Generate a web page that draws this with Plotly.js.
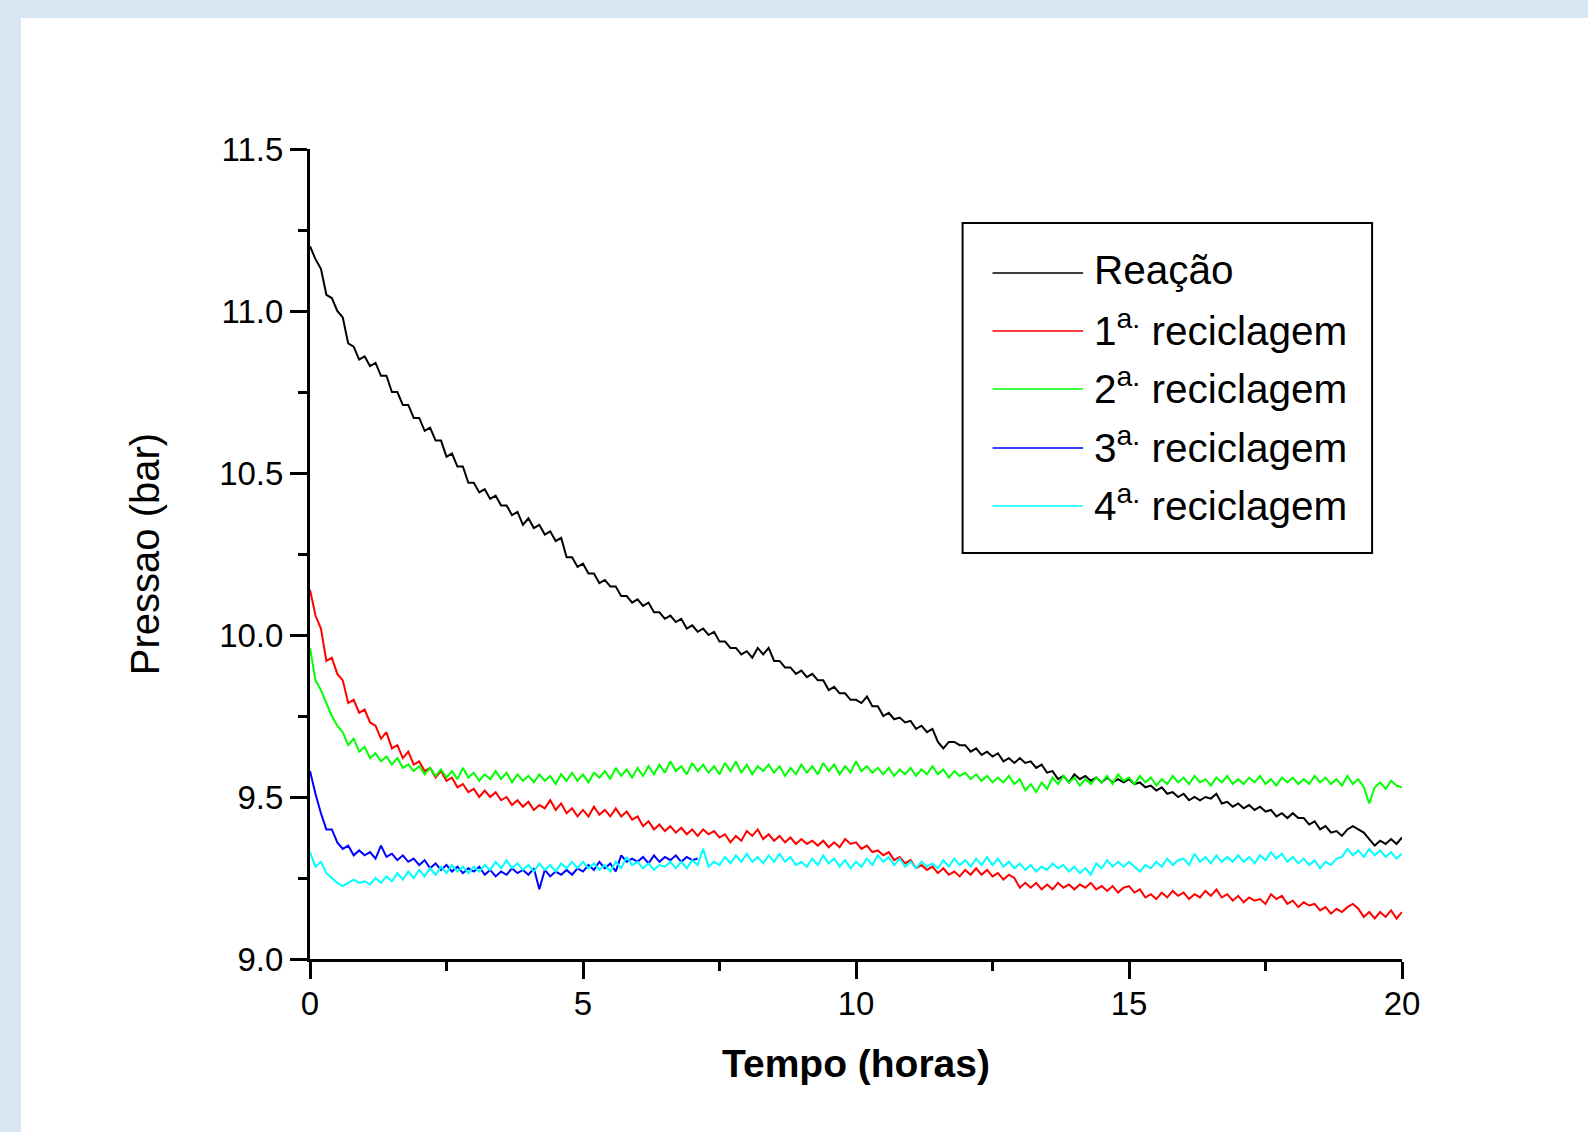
<!DOCTYPE html>
<html><head><meta charset="utf-8">
<script src="https://cdn.plot.ly/plotly-3.0.1.min.js"></script>
<style>
html,body{margin:0;padding:0;width:1588px;height:1132px;overflow:hidden;background:#d8e5f2;}
#chart{position:absolute;left:21px;top:18px;width:1567px;height:1114px;background:#fff;}
</style></head><body><div id="chart"></div>
<script>
// Tempo (horas)
const tempo = [
0,0.1,0.2,0.3,0.4,0.5,0.6,0.7,0.8,0.9,
1,1.1,1.2,1.3,1.4,1.5,1.6,1.7,1.8,1.9,
2,2.1,2.2,2.3,2.4,2.5,2.6,2.7,2.8,2.9,
3,3.1,3.2,3.3,3.4,3.5,3.6,3.7,3.8,3.9,
4,4.1,4.2,4.3,4.4,4.5,4.6,4.7,4.8,4.9,
5,5.1,5.2,5.3,5.4,5.5,5.6,5.7,5.8,5.9,
6,6.1,6.2,6.3,6.4,6.5,6.6,6.7,6.8,6.9,
7,7.1,7.2,7.3,7.4,7.5,7.6,7.7,7.8,7.9,
8,8.1,8.2,8.3,8.4,8.5,8.6,8.7,8.8,8.9,
9,9.1,9.2,9.3,9.4,9.5,9.6,9.7,9.8,9.9,
10,10.1,10.2,10.3,10.4,10.5,10.6,10.7,10.8,10.9,
11,11.1,11.2,11.3,11.4,11.5,11.6,11.7,11.8,11.9,
12,12.1,12.2,12.3,12.4,12.5,12.6,12.7,12.8,12.9,
13,13.1,13.2,13.3,13.4,13.5,13.6,13.7,13.8,13.9,
14,14.1,14.2,14.3,14.4,14.5,14.6,14.7,14.8,14.9,
15,15.1,15.2,15.3,15.4,15.5,15.6,15.7,15.8,15.9,
16,16.1,16.2,16.3,16.4,16.5,16.6,16.7,16.8,16.9,
17,17.1,17.2,17.3,17.4,17.5,17.6,17.7,17.8,17.9,
18,18.1,18.2,18.3,18.4,18.5,18.6,18.7,18.8,18.9,
19,19.1,19.2,19.3,19.4,19.5,19.6,19.7,19.8,19.9,
20];

// Pressao (bar)
const reacao = [
11.20,11.16,11.13,11.05,11.04,11.00,10.98,10.90,10.89,10.85,
10.86,10.83,10.84,10.80,10.80,10.75,10.75,10.71,10.71,10.67,
10.67,10.63,10.64,10.60,10.60,10.55,10.56,10.52,10.52,10.47,
10.47,10.44,10.45,10.42,10.43,10.40,10.40,10.37,10.38,10.34,
10.36,10.33,10.34,10.31,10.32,10.29,10.30,10.24,10.24,10.21,
10.22,10.19,10.19,10.16,10.17,10.15,10.15,10.12,10.12,10.10,
10.11,10.09,10.10,10.07,10.07,10.05,10.06,10.04,10.05,10.02,
10.03,10.01,10.02,10.00,10.01,9.98,9.98,9.96,9.96,9.94,
9.95,9.93,9.96,9.94,9.96,9.92,9.92,9.90,9.90,9.88,
9.89,9.87,9.88,9.86,9.86,9.83,9.84,9.82,9.82,9.80,
9.80,9.79,9.81,9.78,9.78,9.75,9.76,9.74,9.745,9.73,
9.735,9.71,9.72,9.70,9.71,9.67,9.65,9.67,9.67,9.66,
9.66,9.64,9.65,9.63,9.64,9.625,9.635,9.61,9.62,9.605,
9.62,9.605,9.61,9.59,9.60,9.575,9.58,9.555,9.565,9.545,
9.57,9.555,9.565,9.55,9.56,9.545,9.56,9.545,9.555,9.545,
9.555,9.54,9.545,9.53,9.535,9.52,9.53,9.51,9.515,9.50,
9.51,9.49,9.50,9.49,9.50,9.495,9.51,9.48,9.485,9.47,
9.48,9.465,9.475,9.46,9.47,9.455,9.46,9.44,9.45,9.435,
9.45,9.435,9.435,9.415,9.425,9.40,9.41,9.39,9.395,9.38,
9.40,9.41,9.40,9.39,9.37,9.35,9.365,9.355,9.37,9.355,
9.375];

const reciclagem1 = [
10.14,10.06,10.02,9.92,9.93,9.88,9.86,9.79,9.80,9.76,
9.77,9.73,9.72,9.68,9.70,9.65,9.66,9.62,9.64,9.60,
9.61,9.58,9.59,9.56,9.58,9.55,9.56,9.53,9.54,9.515,
9.525,9.50,9.52,9.50,9.515,9.49,9.50,9.475,9.49,9.47,
9.485,9.46,9.475,9.465,9.49,9.46,9.48,9.45,9.465,9.44,
9.46,9.44,9.47,9.445,9.46,9.44,9.465,9.44,9.455,9.43,
9.44,9.41,9.425,9.40,9.415,9.395,9.41,9.39,9.405,9.385,
9.40,9.38,9.40,9.385,9.395,9.375,9.385,9.36,9.38,9.365,
9.395,9.38,9.40,9.37,9.385,9.365,9.38,9.36,9.375,9.355,
9.37,9.355,9.365,9.35,9.365,9.345,9.36,9.345,9.37,9.355,
9.36,9.34,9.35,9.33,9.335,9.32,9.33,9.305,9.315,9.295,
9.305,9.28,9.29,9.275,9.285,9.265,9.28,9.26,9.27,9.255,
9.275,9.26,9.28,9.26,9.275,9.255,9.265,9.245,9.26,9.25,
9.22,9.235,9.22,9.235,9.215,9.23,9.215,9.235,9.22,9.23,
9.215,9.23,9.22,9.235,9.215,9.225,9.21,9.225,9.205,9.22,
9.225,9.205,9.215,9.19,9.20,9.185,9.205,9.19,9.21,9.195,
9.205,9.185,9.20,9.19,9.21,9.195,9.215,9.19,9.20,9.18,
9.195,9.175,9.19,9.18,9.185,9.17,9.20,9.185,9.195,9.17,
9.18,9.16,9.175,9.165,9.17,9.15,9.16,9.14,9.155,9.145,
9.16,9.17,9.155,9.13,9.145,9.125,9.145,9.13,9.15,9.125,
9.145];

const reciclagem2 = [
9.96,9.86,9.83,9.79,9.75,9.72,9.70,9.66,9.68,9.64,
9.655,9.62,9.635,9.61,9.625,9.60,9.62,9.59,9.60,9.58,
9.595,9.57,9.59,9.565,9.585,9.56,9.58,9.555,9.59,9.56,
9.575,9.55,9.57,9.555,9.58,9.555,9.575,9.545,9.57,9.55,
9.565,9.545,9.57,9.55,9.565,9.54,9.57,9.55,9.575,9.55,
9.57,9.545,9.575,9.56,9.58,9.555,9.59,9.565,9.585,9.56,
9.59,9.565,9.595,9.57,9.60,9.575,9.61,9.58,9.595,9.57,
9.605,9.58,9.60,9.575,9.595,9.57,9.605,9.58,9.61,9.575,
9.60,9.57,9.595,9.58,9.60,9.575,9.595,9.565,9.59,9.57,
9.60,9.575,9.595,9.57,9.605,9.58,9.60,9.57,9.595,9.575,
9.61,9.58,9.595,9.575,9.59,9.57,9.59,9.565,9.585,9.57,
9.59,9.565,9.585,9.57,9.595,9.57,9.585,9.56,9.58,9.565,
9.575,9.555,9.57,9.55,9.565,9.545,9.56,9.545,9.565,9.54,
9.555,9.52,9.54,9.515,9.545,9.525,9.56,9.54,9.565,9.545,
9.56,9.535,9.555,9.54,9.56,9.545,9.565,9.54,9.57,9.55,
9.56,9.54,9.565,9.545,9.56,9.535,9.555,9.54,9.565,9.545,
9.56,9.54,9.565,9.545,9.555,9.535,9.56,9.545,9.565,9.54,
9.555,9.54,9.56,9.545,9.565,9.54,9.555,9.535,9.56,9.545,
9.56,9.54,9.555,9.54,9.565,9.545,9.56,9.54,9.555,9.535,
9.565,9.54,9.555,9.53,9.48,9.53,9.545,9.525,9.55,9.535,
9.53];

const reciclagem3 = [
9.58,9.51,9.45,9.40,9.40,9.36,9.34,9.35,9.32,9.335,
9.32,9.33,9.31,9.35,9.315,9.325,9.305,9.32,9.30,9.31,
9.29,9.305,9.28,9.295,9.275,9.29,9.27,9.285,9.265,9.28,
9.27,9.285,9.26,9.275,9.255,9.27,9.26,9.28,9.265,9.275,
9.26,9.28,9.215,9.275,9.255,9.27,9.26,9.275,9.26,9.28,
9.27,9.29,9.275,9.30,9.28,9.295,9.27,9.32,9.30,9.31,
9.30,9.315,9.295,9.32,9.30,9.315,9.305,9.32,9.30,9.315,
9.305,9.31];

const reciclagem4 = [
9.33,9.285,9.30,9.265,9.25,9.235,9.225,9.235,9.245,9.235,
9.24,9.23,9.25,9.235,9.255,9.24,9.265,9.245,9.27,9.25,
9.275,9.255,9.28,9.26,9.285,9.265,9.29,9.27,9.285,9.265,
9.285,9.27,9.29,9.275,9.30,9.28,9.305,9.28,9.295,9.275,
9.29,9.27,9.295,9.275,9.29,9.27,9.295,9.28,9.30,9.28,
9.30,9.28,9.295,9.275,9.29,9.27,9.30,9.28,9.315,9.29,
9.30,9.28,9.295,9.275,9.29,9.285,9.30,9.28,9.30,9.28,
9.305,9.29,9.34,9.285,9.30,9.29,9.315,9.295,9.32,9.30,
9.325,9.30,9.315,9.295,9.32,9.30,9.325,9.30,9.315,9.29,
9.30,9.285,9.31,9.29,9.32,9.295,9.31,9.285,9.305,9.28,
9.30,9.285,9.31,9.29,9.32,9.30,9.315,9.29,9.31,9.285,
9.30,9.28,9.30,9.285,9.295,9.28,9.305,9.285,9.31,9.29,
9.305,9.285,9.31,9.29,9.315,9.29,9.31,9.285,9.30,9.28,
9.295,9.275,9.29,9.27,9.285,9.275,9.295,9.28,9.29,9.27,
9.285,9.265,9.28,9.26,9.295,9.28,9.305,9.285,9.30,9.285,
9.30,9.285,9.27,9.29,9.28,9.30,9.285,9.31,9.29,9.305,
9.31,9.29,9.325,9.30,9.315,9.295,9.32,9.30,9.315,9.30,
9.32,9.30,9.315,9.295,9.32,9.305,9.33,9.31,9.325,9.30,
9.315,9.295,9.31,9.29,9.305,9.28,9.30,9.29,9.31,9.315,
9.34,9.32,9.335,9.315,9.34,9.32,9.335,9.315,9.33,9.31,
9.325];

const seriesNames = ['Reação', '1<sup>a.</sup> reciclagem', '2<sup>a.</sup> reciclagem', '3<sup>a.</sup> reciclagem', '4<sup>a.</sup> reciclagem'];
const seriesColors = ['#000000', '#ff0000', '#00ff00', '#0000ff', '#00ffff'];
const seriesValues = [reacao, reciclagem1, reciclagem2, reciclagem3, reciclagem4];

const xTicks = [0, 5, 10, 15, 20];
const xTickLabels = ['0', '5', '10', '15', '20'];
const yTicks = [9.0, 9.5, 10.0, 10.5, 11.0, 11.5];
const yTickLabels = ['9.0', '9.5', '10.0', '10.5', '11.0', '11.5'];

const FONT = 'Liberation Sans, Arial, Helvetica, sans-serif';

const traces = seriesValues.map((vals, i) => ({
  type: 'scatter', mode: 'lines',
  x: tempo.slice(0, vals.length), y: vals,
  name: seriesNames[i],
  line: {color: seriesColors[i], width: 2},
  showlegend: false, hoverinfo: 'skip'
}));

// custom legend (box, sample lines, labels) in paper coordinates
const legX0 = 0.5976, legX1 = 0.9726, legY0 = 0.5012, legY1 = 0.9086;
const lineX0 = 0.625, lineX1 = 0.708, textX = 0.7162;
const rowY = [0.8469, 0.7753, 0.7037, 0.6309, 0.5593];
const textDy = 0.0035;

const shapes = [{
  type: 'rect', xref: 'paper', yref: 'paper',
  x0: legX0, x1: legX1, y0: legY0, y1: legY1,
  line: {color: '#000', width: 2}, fillcolor: 'rgba(255,255,255,1)', layer: 'above'
}];
const annotations = [];
seriesNames.forEach((nm, i) => {
  shapes.push({type: 'line', xref: 'paper', yref: 'paper',
    x0: lineX0, x1: lineX1, y0: rowY[i], y1: rowY[i],
    line: {color: seriesColors[i], width: 1.6}, layer: 'above'});
  annotations.push({xref: 'paper', yref: 'paper', x: textX, y: rowY[i] + textDy,
    xanchor: 'left', yanchor: 'middle', showarrow: false, text: nm,
    font: {family: FONT, size: 40.5, color: '#000'}});
});

const layout = {
  width: 1567, height: 1114,
  paper_bgcolor: '#ffffff', plot_bgcolor: '#ffffff',
  margin: {l: 289, r: 186, t: 131, b: 173},
  showlegend: false,
  font: {family: FONT, color: '#000'},
  xaxis: {
    range: [0, 20], tickvals: xTicks, ticktext: xTickLabels,
    showline: true, linecolor: '#000', linewidth: 3,
    ticks: 'outside', ticklen: 17, tickwidth: 3, tickcolor: '#000',
    minor: {dtick: 2.5, ticks: 'outside', ticklen: 9, tickwidth: 3, tickcolor: '#000', showgrid: false},
    showgrid: false, zeroline: false, ticklabelstandoff: -4,
    tickfont: {family: FONT, size: 33, color: '#000'},
    title: {text: 'Tempo (horas)', font: {family: FONT, size: 39, color: '#000', weight: 'bold'}, standoff: 30}
  },
  yaxis: {
    range: [9, 11.5], tickvals: yTicks, ticktext: yTickLabels,
    showline: true, linecolor: '#000', linewidth: 3,
    ticks: 'outside', ticklen: 17, tickwidth: 3, tickcolor: '#000',
    minor: {dtick: 0.25, ticks: 'outside', ticklen: 9, tickwidth: 3, tickcolor: '#000', showgrid: false},
    showgrid: false, zeroline: false,
    tickfont: {family: FONT, size: 33, color: '#000'},
    title: {text: 'Pressao (bar)', font: {family: FONT, size: 40, color: '#000'}, standoff: 48}
  },
  shapes: shapes,
  annotations: annotations
};

Plotly.newPlot('chart', traces, layout, {displayModeBar: false, staticPlot: true});
</script></body></html>
